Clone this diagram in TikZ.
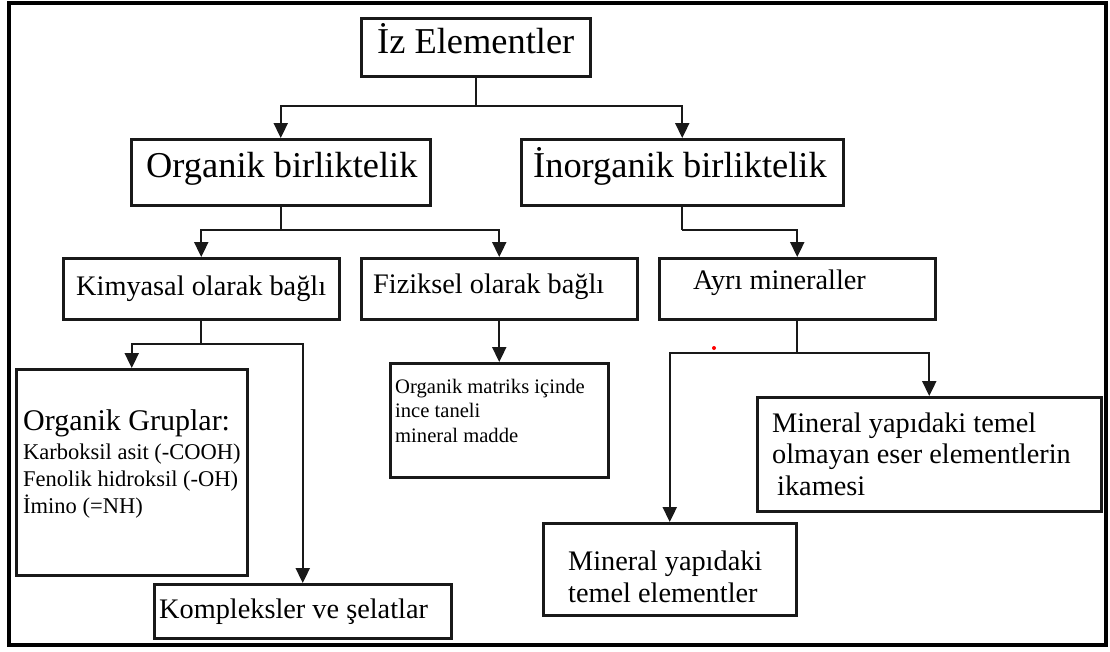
\documentclass[tikz,border=0pt]{standalone}
\usepackage{fontspec}
\setmainfont{Liberation Serif}
\usetikzlibrary{arrows.meta}
\begin{document}
\begin{tikzpicture}[x=1pt,y=-1pt,
  box/.style={draw=black!90, line width=2.5pt, inner sep=0pt, anchor=north west},
  txt/.style={anchor=base west, inner sep=0pt, text=black},
  big/.style={txt, font=\fontsize{36.4}{40}\selectfont},
  mid/.style={txt, font=\fontsize{28.3}{31.5}\selectfont},
  conn/.style={draw=black!90, line width=2.3pt},
  arr/.style={conn, -{Triangle[width=14pt,length=15pt]}}]
\fill[white] (0,0) rectangle (1110,651);
\useasboundingbox (0,0) rectangle (1110,651);
\draw[line width=4.5pt] (9,3) rectangle (1106,645);

% boxes
\node[box, minimum width=229pt, minimum height=58pt] (A) at (360,17) {};
\node[box, minimum width=299pt, minimum height=66pt] (B) at (130,138) {};
\node[box, minimum width=322pt, minimum height=66pt] (C) at (520,138) {};
\node[box, minimum width=276pt, minimum height=61pt] (D) at (62,257) {};
\node[box, minimum width=276pt, minimum height=61pt] (E) at (360,257) {};
\node[box, minimum width=276pt, minimum height=61pt] (F) at (658,257) {};
\node[box, minimum width=231pt, minimum height=206pt] (G) at (15,368) {};
\node[box, minimum width=297pt, minimum height=54pt] (H) at (153,583) {};
\node[box, minimum width=218pt, minimum height=114pt] (I) at (389,362) {};
\node[box, minimum width=344pt, minimum height=114pt] (J) at (756,396) {};
\node[box, minimum width=253pt, minimum height=92pt] (K) at (542,522) {};

% texts
\node[big] (At) at (377,53) {İz Elementler};
\node[big] (Bt) at (146,177) {Organik birliktelik};
\node[big] (Ct) at (533,177) {İnorganik birliktelik};
\node[mid] (Dt) at (76,295) {Kimyasal olarak bağlı};
\node[mid] (Et) at (373,293) {Fiziksel olarak bağlı};
\node[mid] (Ft) at (693,289) {Ayrı mineraller};
\node[txt, font=\fontsize{22.5}{27}\selectfont] (Gt) at (23,430)
  {\begin{tabular}[t]{@{}l@{}}{\fontsize{30}{36}\selectfont Organik Gruplar:}\\[2pt]
   Karboksil asit (-COOH)\\ Fenolik hidroksil (-OH)\\ İmino (=NH)\end{tabular}};
\node[mid] (Ht) at (159,618) {Kompleksler ve şelatlar};
\node[txt, font=\fontsize{20.6}{24.5}\selectfont] (It) at (395,393)
  {\begin{tabular}[t]{@{}l@{}}Organik matriks içinde\\ ince taneli\\ mineral madde\end{tabular}};
\node[mid] (Jt) at (772,432)
  {\begin{tabular}[t]{@{}l@{}}Mineral yapıdaki temel\\ olmayan eser elementlerin\\ \hspace{5pt}ikamesi\end{tabular}};
\node[mid, font=\fontsize{28.3}{32}\selectfont] (Kt) at (568,570)
  {\begin{tabular}[t]{@{}l@{}}Mineral yapıdaki\\ temel elementler\end{tabular}};

% junction levels
\coordinate (y1) at (0,106);
\coordinate (y2) at (0,230);
\coordinate (y3) at (0,344);
\coordinate (y4) at (0,353);

% connectors
\draw[conn] (A.south) -- (A.south |- y1);
\draw[arr] (A.south |- y1) -| (B.north);
\draw[arr] (A.south |- y1) -| (C.north);

\draw[conn] (B.south) -- (B.south |- y2);
\draw[conn] (C.south) -- (C.south |- y2);
\draw[arr] (B.south |- y2) -| (D.north);
\draw[arr] (B.south |- y2) -| (E.north);
\draw[arr] (C.south |- y2) -| (F.north);

\draw[conn] (D.south) -- (D.south |- y3);
\draw[arr] (D.south |- y3) -| (G.north);
\draw[arr] (D.south |- y3) -| (H.north);

\draw[arr] (E.south) -- (I.north);

\draw[conn] (F.south) -- (F.south |- y4);
\draw[arr] (F.south |- y4) -| (J.north);
\draw[arr] (F.south |- y4) -| (K.north);

\fill[red] (714,348) circle (2pt);
\end{tikzpicture}
\end{document}
